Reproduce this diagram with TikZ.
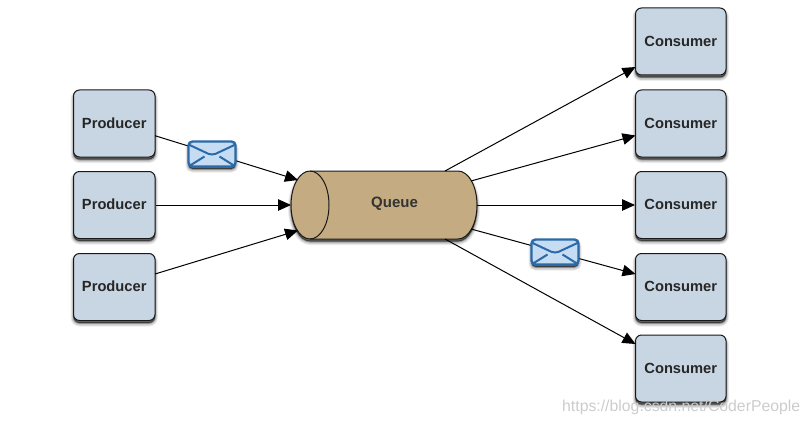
\documentclass[tikz,border=0pt]{standalone}
\usepackage{fontspec}
\setmainfont{Liberation Sans}
\usetikzlibrary{arrows.meta}
\definecolor{boxfill}{HTML}{C8D5E2}
\definecolor{queuefill}{HTML}{C4AB81}
\definecolor{envblue}{HTML}{2A6AA8}
\definecolor{envfill}{HTML}{C5DCF3}
\tikzset{
  softshadow/.style={
    preaction={draw=black,fill=black,opacity=.07,line width=6pt,transform canvas={yshift=-3pt}},
    preaction={draw=black,fill=black,opacity=.12,line width=4pt,transform canvas={yshift=-3pt}},
    preaction={draw=black,fill=black,opacity=.20,line width=2pt,transform canvas={yshift=-2.5pt}},
    preaction={draw=black,fill=black,opacity=.30,line width=.6pt,transform canvas={yshift=-2pt}}},
  actor/.style={softshadow,draw=black!90,line width=1pt,fill=boxfill,rounded corners=6pt,
    minimum height=67pt,inner sep=0pt,font=\bfseries\fontsize{14.7}{16}\selectfont,text=black!85},
  producer/.style={actor,minimum width=81.5pt},
  consumer/.style={actor,minimum width=90.5pt},
  flow/.style={draw=black,line width=1pt,-{Triangle[length=13pt,width=11.5pt]}},
  envelope/.style={softshadow,draw=envblue,line width=2.4pt,fill=envfill,rounded corners=4pt,
    minimum width=47pt,minimum height=25pt,inner sep=0pt,
    path picture={
      \draw[envblue,line width=2pt]
        ([yshift=-3pt]path picture bounding box.north west) -- ([yshift=-14pt]path picture bounding box.north)
        -- ([yshift=-3pt]path picture bounding box.north east);
      \draw[envblue,line width=2pt]
        (path picture bounding box.south west) -- ++(16pt,10pt);
      \draw[envblue,line width=2pt]
        (path picture bounding box.south east) -- ++(-16pt,10pt);
    }},
  queuelabel/.style={font=\bfseries\fontsize{15}{16}\selectfont,text=black!80,inner sep=0pt},
  mark text/.style={text=black!20,font=\fontsize{15.8}{18}\selectfont,inner sep=0pt}
}
\begin{document}
\begin{tikzpicture}[x=1pt,y=-1pt]
\useasboundingbox (0,0) rectangle (810,425);
% nodes
\node[producer] (p1) at (114.25,123.5) {\raisebox{1pt}{Producer}};
\node[producer] (p2) at (114.25,205) {\raisebox{1pt}{Producer}};
\node[producer] (p3) at (114.25,287) {\raisebox{1pt}{Producer}};
\node[consumer] (c1) at (680.75,41.5) {\raisebox{1pt}{Consumer}};
\node[consumer] (c2) at (680.75,123.5) {\raisebox{1pt}{Consumer}};
\node[consumer] (c3) at (680.75,205) {\raisebox{1pt}{Consumer}};
\node[consumer] (c4) at (680.75,287) {\raisebox{1pt}{Consumer}};
\node[consumer] (c5) at (680.75,368.5) {\raisebox{1pt}{Consumer}};
% queue body
\path[softshadow,draw=black!90,line width=1pt,fill=queuefill]
  (310,171) -- (458,171) .. controls (468.5,171) and (477,186) .. (477,205)
  .. controls (477,224) and (468.5,239) .. (458,239) -- (310,239)
  .. controls (299.5,239) and (291,224) .. (291,205)
  .. controls (291,186) and (299.5,171) .. (310,171) -- cycle;
\draw[black!90,line width=1pt] (310,171) .. controls (320.5,171) and (329,186) .. (329,205)
  .. controls (329,224) and (320.5,239) .. (310,239);
\node[queuelabel] (q) at (394.5,204) {Queue};
% connector ends
\coordinate (p1o) at (155,135.7);
\coordinate (p3o) at (155,274);
\coordinate (qi1) at (298,180);
\coordinate (qi2) at (291,205);
\coordinate (qi3) at (298,230.5);
\coordinate (qo1) at (445,171);
\coordinate (qo2) at (471,181);
\coordinate (qo3) at (477,205);
\coordinate (qo4) at (471,229);
\coordinate (qo5) at (445,239);
\coordinate (c1i) at (635.5,67);
\coordinate (c2i) at (635.5,135.5);
\coordinate (c4i) at (635.5,274);
\coordinate (c5i) at (635.5,344);
% connectors
\draw[flow] (p1o) -- (qi1);
\draw[flow] (p2.east) -- (qi2);
\draw[flow] (p3o) -- (qi3);
\draw[flow] (qo1) -- (c1i);
\draw[flow] (qo2) -- (c2i);
\draw[flow] (qo3) -- (c3.west);
\draw[flow] (qo4) -- (c4i);
\draw[flow] (qo5) -- (c5i);
% envelopes
\node[envelope] (e1) at (212,154) {};
\node[envelope] (e2) at (555,252) {};
% watermark
\node[mark text,anchor=west] (wm) at (562,407) {https://blog.csdn.net/CoderPeople};
\end{tikzpicture}
\end{document}
